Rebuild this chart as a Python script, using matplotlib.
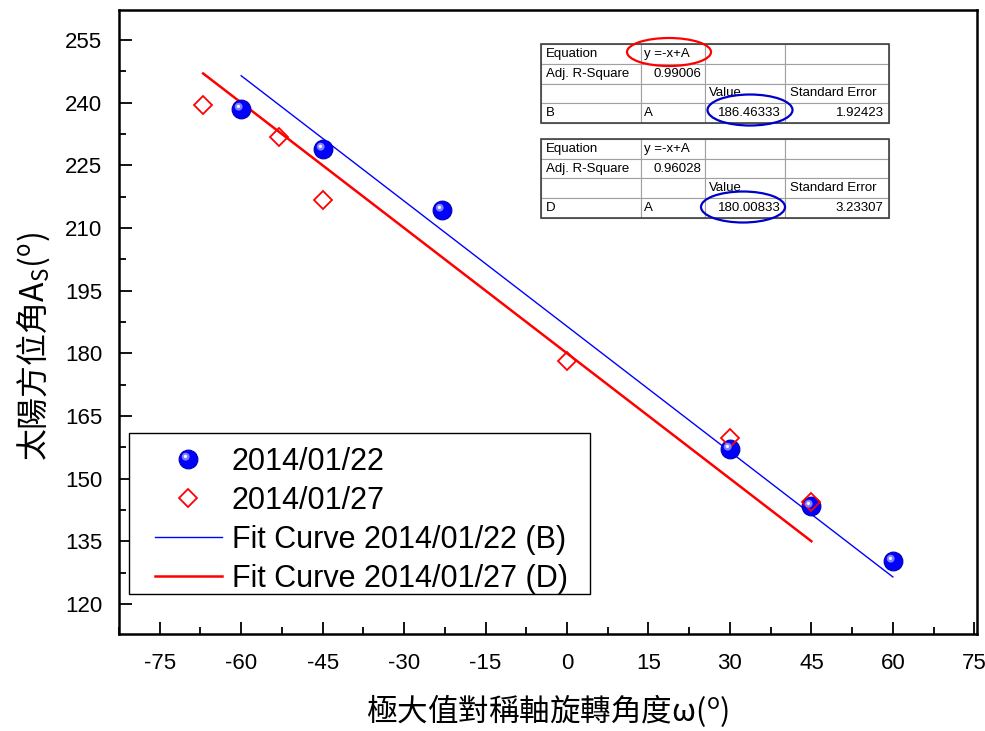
import matplotlib
matplotlib.use('Agg')
import matplotlib.pyplot as plt
from matplotlib.path import Path
from matplotlib.patches import Ellipse, Rectangle
from matplotlib.ticker import MultipleLocator
from matplotlib.legend_handler import HandlerTuple

plt.rcParams['font.family'] = ['Liberation Sans', 'Noto Sans CJK TC', 'DejaVu Sans']
plt.rcParams['mathtext.fontset'] = 'custom'
for k in ['rm', 'it', 'bf', 'sf', 'tt', 'cal']:
    plt.rcParams['mathtext.' + k] = 'Noto Sans CJK TC'
plt.rcParams['mathtext.default'] = 'rm'
plt.rcParams['axes.unicode_minus'] = False

# data
x_b = [-60, -45, -23, 30, 45, 60]
y_b = [238.5, 228.9, 214.3, 157.1, 143.5, 130.3]
x_d = [-67, -53, -45, 0, 30, 45]
y_d = [239.4, 231.8, 216.7, 178.2, 159.7, 144.4]

A_b = 186.46333
A_d = 180.00833
fit_b_x = [-60, 60]
fit_d_x = [-67, 45]

table_b = [['Equation', 'y =-x+A', '', ''],
           ['Adj. R-Square', '0.99006', '', ''],
           ['', '', 'Value', 'Standard Error'],
           ['B', 'A', '186.46333', '1.92423']]
table_d = [['Equation', 'y =-x+A', '', ''],
           ['Adj. R-Square', '0.96028', '', ''],
           ['', '', 'Value', 'Standard Error'],
           ['D', 'A', '180.00833', '3.23307']]

fig = plt.figure(figsize=(9.85, 7.31), dpi=100)
ax = fig.add_axes([0.1208, 0.1327, 0.8711, 0.8536])

def to_ax(px, py):
    return (px - 119) / 858, (634 - py) / 624

# sphere-like marker highlight (moveto points only fix the scale)
def highlight(cx, cy, r):
    return Path.make_compound_path(Path.circle((cx, cy), r),
                                   Path([(1, 1), (-1, -1)], [Path.MOVETO, Path.MOVETO]))

l1, = ax.plot(x_b, y_b, 'o', ms=13.5, mfc='#0000ff', mec='#0000b0', mew=0.8, zorder=4)
l1h, = ax.plot(x_b, y_b, ls='none', marker=highlight(-0.3, 0.3, 0.42), ms=13.5,
               mfc='#8080ff', mew=0, zorder=5)
l1w, = ax.plot(x_b, y_b, ls='none', marker=highlight(-0.33, 0.33, 0.18), ms=13.5,
               mfc='#f0f0ff', mew=0, zorder=6)
l2, = ax.plot(x_d, y_d, 'D', ms=9.5, mfc='none', mec='#ff0000', mew=1.3, zorder=4)

l3, = ax.plot(fit_b_x, [-x + A_b for x in fit_b_x], color='#0000ff', lw=1.0, zorder=3)
l4, = ax.plot(fit_d_x, [-x + A_d for x in fit_d_x], color='#ff0000', lw=1.8, zorder=3)

ax.set_xlim(-82.5, 75.5)
ax.set_ylim(112.8, 262.2)
ax.xaxis.set_minor_locator(MultipleLocator(7.5))
ax.yaxis.set_major_locator(MultipleLocator(15))
ax.yaxis.set_minor_locator(MultipleLocator(7.5))
ax.set_xticks(range(-75, 76, 15))
ax.tick_params(which='both', direction='in', width=1.3, labelsize=16)
ax.tick_params(which='major', length=9)
ax.tick_params(axis='x', which='major', pad=14)
ax.tick_params(axis='y', which='major', pad=12)
ax.tick_params(which='minor', length=5)
for s in ax.spines.values():
    s.set_linewidth(1.8)

ax.set_xlabel('極大值對稱軸旋轉角度ω($^\\mathrm{o}$)', fontsize=22,
              fontfamily='Noto Sans CJK TC')
ax.set_ylabel('太陽方位角A$_\\mathrm{S}$($^\\mathrm{o}$)', fontsize=23,
              fontfamily='Noto Sans CJK TC')
ax.xaxis.set_label_coords(0.5, -0.093)
ax.yaxis.set_label_coords(-0.078, 0.4615)

# legend with a hand-placed frame
lx0, ly0 = to_ax(129, 594)
lx1, ly1 = to_ax(590, 433)
ax.add_patch(Rectangle((lx0, ly0), lx1 - lx0, ly1 - ly0, transform=ax.transAxes,
                       facecolor='white', edgecolor='black', lw=1.0, zorder=9))
leg = ax.legend([(l1, l1h, l1w), l2, l3, l4],
                ['2014/01/22', '2014/01/27', 'Fit Curve 2014/01/22 (B)', 'Fit Curve 2014/01/27 (D)'],
                handler_map={tuple: HandlerTuple(ndivide=1)},
                loc='upper left', bbox_to_anchor=to_ax(155, 447), borderaxespad=0,
                fontsize=22, frameon=False, borderpad=0,
                handlelength=2.19, labelspacing=0.29, handletextpad=0.33)
leg.set_zorder(10)

# fit tables
col_w = [0.287, 0.184, 0.230, 0.299]
aligns = [['left', 'left', 'left', 'left'],
          ['left', 'right', 'left', 'left'],
          ['left', 'left', 'left', 'left'],
          ['left', 'left', 'right', 'right']]
for rows, top in [(table_b, 0.9455), (table_d, 0.7933)]:
    bbox = [0.4918, top - 0.1266, 0.4056, 0.1266]
    tbl = ax.table(cellText=rows, colWidths=col_w, bbox=bbox, cellLoc='left', zorder=7)
    tbl.auto_set_font_size(False)
    tbl.set_fontsize(9.5)
    for (r, c), cell in tbl.get_celld().items():
        cell.set_edgecolor('#a0a0a0')
        cell.set_linewidth(0.8)
        cell._loc = aligns[r][c]
        cell.get_text().set_horizontalalignment(aligns[r][c])
        cell.PAD = 0.05
    ax.add_patch(Rectangle((bbox[0], bbox[1]), bbox[2], bbox[3], transform=ax.transAxes,
                           fill=False, edgecolor='#404040', lw=1.2, zorder=8))

# highlight ellipses (pixel spots turned into axes fractions)
def px_ell(cx, cy, w, h, color):
    ax.add_patch(Ellipse(to_ax(cx, cy), w / 858, h / 624,
                         transform=ax.transAxes, fill=False, edgecolor=color,
                         lw=1.6, zorder=9, clip_on=False))

px_ell(669, 52, 84, 28, '#ff0000')
px_ell(750, 110, 85, 31, '#0000cc')
px_ell(743, 207, 84, 31, '#0000cc')

fig.savefig('out.png', dpi=100)
